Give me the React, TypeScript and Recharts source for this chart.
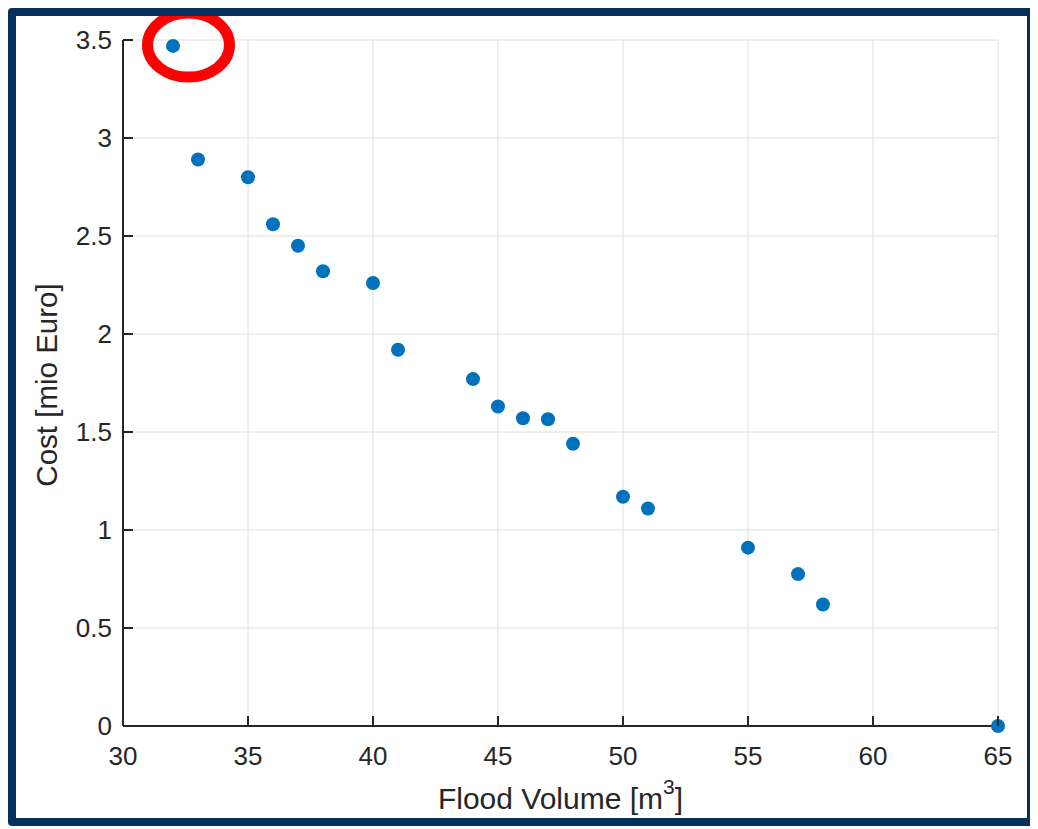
import React from 'react';
import { ScatterChart, Scatter, XAxis, YAxis, CartesianGrid, ReferenceDot } from 'recharts';

const floodVolume = [32, 33, 35, 36, 37, 38, 40, 41, 44, 45, 46, 47, 48, 50, 51, 55, 57, 58, 65];
const costMio = [3.47, 2.89, 2.8, 2.56, 2.45, 2.32, 2.26, 1.92, 1.77, 1.63, 1.57, 1.565, 1.44, 1.17, 1.11, 0.91, 0.775, 0.62, 0];
const xTicks = [30, 35, 40, 45, 50, 55, 60, 65];
const yTicks = [0, 0.5, 1, 1.5, 2, 2.5, 3, 3.5];

const points = floodVolume.map((v, i) => ({ volume: v, cost: costMio[i] }));

const TEXT = '#262626';
const FONT = '"Liberation Sans", Arial, Helvetica, sans-serif';

const XTick = (props: any) => {
  const { x, y, payload } = props;
  return (
    <g>
      <line x1={x} y1={y} x2={x} y2={y - 10} stroke={TEXT} strokeWidth={2} />
      <text x={x} y={y + 39} textAnchor="middle" fill={TEXT} fontSize={26} fontFamily={FONT}>
        {payload.value}
      </text>
    </g>
  );
};

const YTick = (props: any) => {
  const { x, y, payload } = props;
  return (
    <g>
      <line x1={x} y1={y} x2={x + 10} y2={y} stroke={TEXT} strokeWidth={2} />
      <text x={x - 11} y={y + 9} textAnchor="end" fill={TEXT} fontSize={26} fontFamily={FONT}>
        {payload.value}
      </text>
    </g>
  );
};

const XTitle = (props: any) => {
  const { viewBox } = props;
  const cx = viewBox.x + viewBox.width / 2;
  return (
    <text x={cx} y={viewBox.y + 83} textAnchor="middle" fill={TEXT} fontSize={30} fontFamily={FONT}>
      Flood Volume [m
      <tspan dy={-15} fontSize={21}>3</tspan>
      <tspan dy={15}>]</tspan>
    </text>
  );
};

const YTitle = () => (
  <text
    x={41}
    y={369}
    transform="rotate(-90, 41, 369)"
    textAnchor="middle"
    fill={TEXT}
    fontSize={29.5}
    fontFamily={FONT}
  >
    Cost [mio Euro]
  </text>
);

const Dot = (props: any) => <circle cx={props.cx} cy={props.cy} r={7} fill="#0072BD" />;

const Highlight = (props: any) => (
  <ellipse cx={props.cx} cy={props.cy} rx={41} ry={32} fill="none" stroke="#ff0000" strokeWidth={11} />
);

export default function App() {
  return (
    <div
      style={{
        width: 1011,
        height: 802,
        border: '8px solid #06305c',
        borderRadius: 4,
        background: '#fff',
      }}
    >
      <ScatterChart width={1011} height={802} margin={{ top: 24, right: 29, bottom: 32, left: 20 }}>
        <CartesianGrid stroke="#dedede" strokeWidth={1} />
        <XAxis
          type="number"
          dataKey="volume"
          domain={[30, 65]}
          ticks={xTicks}
          interval={0}
          height={60}
          tickSize={0}
          tickMargin={0}
          tick={<XTick />}
          axisLine={{ stroke: TEXT, strokeWidth: 2 }}
          label={{ content: <XTitle /> }}
        />
        <YAxis
          type="number"
          dataKey="cost"
          domain={[0, 3.5]}
          ticks={yTicks}
          interval={0}
          width={87}
          tickSize={0}
          tickMargin={0}
          tick={<YTick />}
          axisLine={{ stroke: TEXT, strokeWidth: 2 }}
          label={{ content: <YTitle /> }}
        />
        <Scatter data={points} shape={<Dot />} isAnimationActive={false} />
        <ReferenceDot x={32.62} y={3.474} ifOverflow="visible" shape={<Highlight />} />
      </ScatterChart>
    </div>
  );
}
